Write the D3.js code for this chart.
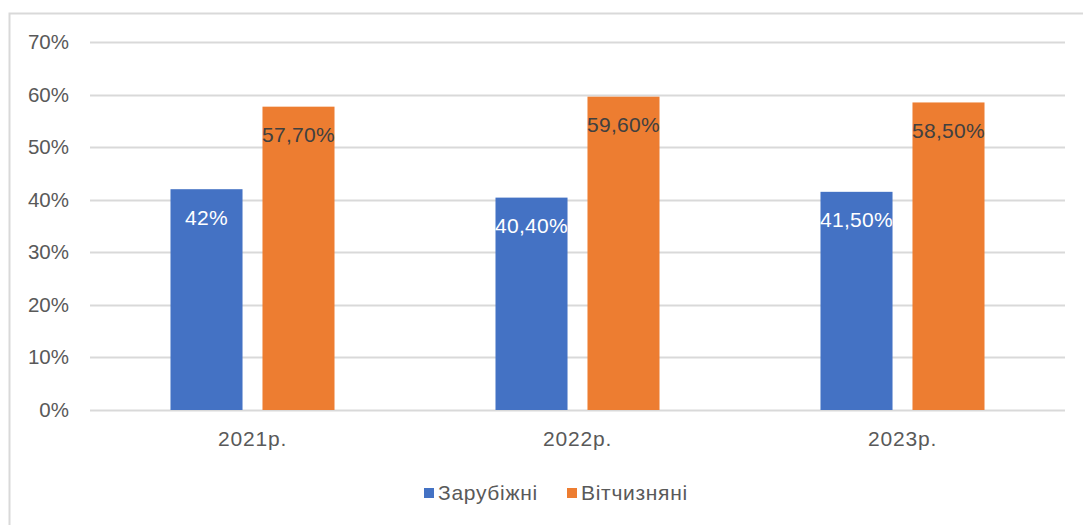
<!DOCTYPE html>
<html>
<head>
<meta charset="utf-8">
<script src="https://cdn.jsdelivr.net/npm/d3@7"></script>
<style>
  body { margin: 0; background: #fff; }
  text { font-family: "Liberation Sans", Arial, sans-serif; }
</style>
</head>
<body>
<svg id="chart" width="1083" height="525"></svg>
<script>
// data
var years = ["2021р.", "2022р.", "2023р."];
var seriesNames = ["Зарубіжні", "Вітчизняні"];
var foreign = [0.42, 0.404, 0.415];
var domestic = [0.577, 0.596, 0.585];
var foreignLabels = ["42%", "40,40%", "41,50%"];
var domesticLabels = ["57,70%", "59,60%", "58,50%"];
var yTicks = [0, 0.1, 0.2, 0.3, 0.4, 0.5, 0.6, 0.7];
var colors = ["#4472c4", "#ed7d31"];

var svg = d3.select("#chart");

// outer chart frame (runs off right/bottom edge like the screenshot)
svg.append("rect")
  .attr("x", 9.5).attr("y", 13.5)
  .attr("width", 1100).attr("height", 600)
  .attr("fill", "none")
  .attr("stroke", "#d9d9d9")
  .attr("stroke-width", 2);

var x = d3.scaleBand().domain(years).range([90, 1065]);
var x1 = d3.scaleBand().domain(seriesNames).range([0, x.bandwidth()])
  .paddingInner(0.217).paddingOuter(0.875);
var y = d3.scaleLinear().domain([0, 0.7]).range([410, 42]);

// gridlines
svg.append("g").selectAll("line").data(yTicks).enter().append("line")
  .attr("x1", 90).attr("x2", 1065)
  .attr("y1", function(d){ return Math.round(y(d)) + 0.5; })
  .attr("y2", function(d){ return Math.round(y(d)) + 0.5; })
  .attr("stroke", "#d9d9d9")
  .attr("stroke-width", 2);

// y axis labels
var yAxis = d3.axisLeft(y).tickValues(yTicks).tickSize(0).tickPadding(0)
  .tickFormat(function(d){ return Math.round(d * 100) + "%"; });
var gy = svg.append("g").attr("transform", "translate(69,0)").call(yAxis);
gy.select(".domain").remove();
gy.selectAll("text").attr("font-size", 20.5).attr("fill", "#595959")
  .style("font-family", "'Liberation Sans', Arial, sans-serif");

// x axis labels
var xAxis = d3.axisBottom(x).tickSize(0).tickPadding(0);
var gx = svg.append("g").attr("transform", "translate(0,431)").call(xAxis);
gx.select(".domain").remove();
gx.selectAll("text").attr("font-size", 21).attr("fill", "#595959")
  .style("font-family", "'Liberation Sans', Arial, sans-serif")
  .style("letter-spacing", "0.8px");

var rows = years.map(function(yr, i) {
  return [
    { year: yr, s: seriesNames[0], v: foreign[i], lab: foreignLabels[i], c: colors[0], tc: "#ffffff" },
    { year: yr, s: seriesNames[1], v: domestic[i], lab: domesticLabels[i], c: colors[1], tc: "#404040" }
  ];
});
var flat = [].concat.apply([], rows);

svg.append("g").selectAll("rect").data(flat).enter().append("rect")
  .attr("x", function(d){ return x(d.year) + x1(d.s); })
  .attr("y", function(d){ return y(d.v); })
  .attr("width", x1.bandwidth())
  .attr("height", function(d){ return y(0) - y(d.v); })
  .attr("fill", function(d){ return d.c; });

svg.append("g").selectAll("text").data(flat).enter().append("text")
  .attr("x", function(d){ return x(d.year) + x1(d.s) + x1.bandwidth() / 2; })
  .attr("y", function(d){ return y(d.v) + 28; })
  .attr("dy", "0.35em")
  .attr("text-anchor", "middle")
  .attr("font-size", 21)
  .style("letter-spacing", "0.3px")
  .attr("fill", function(d){ return d.tc; })
  .text(function(d){ return d.lab; });

// legend
var legend = svg.append("g").attr("transform", "translate(424,493)");
var lx = [0, 143];
seriesNames.forEach(function(name, i) {
  var g = legend.append("g").attr("transform", "translate(" + lx[i] + ",0)");
  g.append("rect").attr("x", 0).attr("y", -5).attr("width", 10).attr("height", 10)
    .attr("fill", colors[i]);
  g.append("text").attr("x", 14).attr("y", 0).attr("dy", "0.35em")
    .attr("font-size", 21).style("letter-spacing", "0.7px")
    .attr("fill", "#595959").text(name);
});
</script>
</body>
</html>
